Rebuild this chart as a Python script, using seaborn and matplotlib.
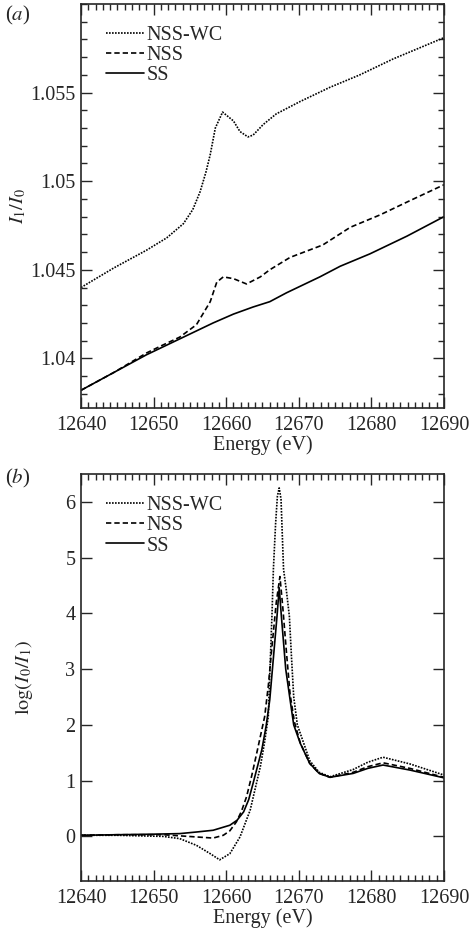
import numpy as np
import pandas as pd
import matplotlib
matplotlib.use('Agg')
import matplotlib.pyplot as plt
import seaborn as sns
from matplotlib.ticker import MultipleLocator, FixedLocator, FixedFormatter

# ---- panel (a): I1/I0 ----
a_ss_e = [12640, 12644.5, 12649, 12653.6, 12658.2, 12661, 12663.7, 12666, 12668.3,
          12672.9, 12675.7, 12679.8, 12684.9, 12690]
a_ss_v = [1.0382, 1.0392, 1.0402, 1.0411, 1.0420, 1.0425, 1.0429, 1.0432, 1.0437,
          1.0446, 1.0452, 1.0459, 1.0469, 1.0480]

a_nss_e = [12640, 12644.5, 12649, 12651, 12653.6, 12655.9, 12657.8, 12658.7, 12659.6,
           12661, 12662.8, 12664.7, 12666, 12668.8, 12673.3, 12677.1, 12681.2, 12685.3, 12690]
a_nss_v = [1.0382, 1.0392, 1.0403, 1.0407, 1.0412, 1.0419, 1.0432, 1.0443, 1.0446,
           1.0445, 1.0442, 1.0446, 1.0450, 1.0457, 1.0464, 1.0474, 1.0481, 1.0489, 1.0498]

a_wc_e = [12640, 12644.5, 12649, 12651.8, 12654.1, 12655.4, 12656.4, 12657.2, 12657.8,
          12658.5, 12659.5, 12661, 12661.9, 12663, 12663.7, 12665.1, 12666.9, 12670.2,
          12674.3, 12678.4, 12683, 12690]
a_wc_v = [1.0440, 1.0451, 1.0461, 1.0468, 1.0476, 1.0484, 1.0494, 1.0505, 1.0515,
          1.0530, 1.0539, 1.0534, 1.0528, 1.0525, 1.0526, 1.0532, 1.0538, 1.0545,
          1.0553, 1.0560, 1.0569, 1.0581]

# ---- panel (b): log(I0/I1) ----
b_ss_e = [12640, 12645, 12650, 12653.6, 12656, 12658.2, 12660.5, 12661.5, 12662.4, 12663.1,
          12663.7, 12664.3, 12664.9, 12665.5, 12666, 12666.5, 12667, 12667.3, 12667.6,
          12668.2, 12668.8, 12669.3, 12670.2, 12671.5, 12672.8, 12674.3, 12677.5, 12679.5,
          12681.6, 12685.3, 12690]
b_ss_v = [0.02, 0.03, 0.04, 0.05, 0.08, 0.11, 0.20, 0.29, 0.44, 0.66,
          0.95, 1.25, 1.55, 1.98, 2.45, 3.2, 3.95, 4.46, 3.95,
          3.0, 2.45, 2.0, 1.67, 1.31, 1.13, 1.06, 1.13, 1.22,
          1.28, 1.19, 1.05]

b_nss_e = [12640, 12645, 12651.3, 12655.9, 12658.2, 12659.6, 12660.5, 12661.4, 12662.1,
           12662.8, 12663.5, 12664.2, 12664.8, 12665.3, 12665.8, 12666.3, 12666.9, 12667.4,
           12667.8, 12668.3, 12668.8, 12669.4, 12670.2, 12671.5, 12672.8, 12674.3, 12677.5,
           12679.5, 12681.6, 12685.3, 12690]
b_nss_v = [0.02, 0.03, 0.03, -0.01, -0.03, 0.02, 0.10, 0.26, 0.45,
           0.71, 1.08, 1.49, 1.85, 2.15, 2.7, 3.4, 4.2, 4.66,
           4.1, 3.3, 2.55, 2.05, 1.68, 1.31, 1.13, 1.06, 1.15,
           1.25, 1.32, 1.22, 1.06]

b_wc_e = [12640, 12645, 12651.3, 12653.6, 12655.9, 12657.8, 12659.1, 12660.5, 12661.9,
          12663.3, 12664.7, 12665.3, 12665.8, 12666.0, 12666.3, 12666.5, 12666.8, 12667.05,
          12667.3, 12667.55, 12667.9, 12668.3, 12668.7, 12669.0, 12669.3, 12669.8, 12670.6,
          12671.5, 12672.8, 12674.3, 12677.5, 12679.5, 12681.6, 12685.3, 12690]
b_wc_v = [0.02, 0.02, 0.0, -0.04, -0.16, -0.31, -0.42, -0.31, -0.01,
          0.47, 1.25, 1.7, 2.15, 2.9, 3.95, 4.79, 5.6, 6.1,
          6.25, 6.05, 4.79, 4.4, 3.95, 3.2, 2.5, 2.0, 1.70,
          1.36, 1.15, 1.07, 1.2, 1.33, 1.42, 1.30, 1.10]

labels = ['NSS-WC', 'NSS', 'SS']
styles = {'NSS-WC': (0, (1, 0.8)), 'NSS': (0, (3.2, 1.8)), 'SS': '-'}

sns.set_style('ticks')
plt.rcParams['font.family'] = ['Liberation Serif', 'DejaVu Serif']
plt.rcParams['mathtext.fontset'] = 'stix'
plt.rcParams['font.size'] = 14.5

fs = 14.5
fig = plt.figure(figsize=(4.72, 9.31), dpi=100)
ax1 = fig.add_axes([81 / 472, 1 - 408 / 931, 363 / 472, 404 / 931])
ax2 = fig.add_axes([81 / 472, 1 - 881 / 931, 363 / 472, 407 / 931])

top_sets = [(a_wc_e, a_wc_v), (a_nss_e, a_nss_v), (a_ss_e, a_ss_v)]
bot_sets = [(b_wc_e, b_wc_v), (b_nss_e, b_nss_v), (b_ss_e, b_ss_v)]

for ax, sets in [(ax1, top_sets), (ax2, bot_sets)]:
    for lab, (e, v) in zip(labels, sets):
        sns.lineplot(x=e, y=v, ax=ax, color='black', linewidth=1.2,
                     linestyle=styles[lab], label=lab)
    ax.legend(loc='upper left', frameon=False, fontsize=fs, handlelength=1.9,
              handletextpad=0.1, labelspacing=0.05, borderaxespad=0.3,
              bbox_to_anchor=(0.03, 0.98))
    ax.set_xlim(12640, 12690)
    ax.xaxis.set_major_locator(MultipleLocator(10))
    ax.xaxis.set_minor_locator(MultipleLocator(1))
    ax.tick_params(which='both', direction='in', top=True, right=True,
                   labelsize=fs, width=1.0)
    ax.tick_params(axis='x', which='both', pad=6)
    ax.tick_params(axis='y', which='both', pad=4)
    ax.tick_params(which='major', length=8)
    ax.tick_params(which='minor', length=4.3)
    for s in ax.spines.values():
        s.set_linewidth(1.2)
    ax.set_xlabel('Energy (eV)', fontsize=fs, labelpad=0)

ax1.set_ylim(1.0372, 1.060)
ax1.yaxis.set_major_locator(FixedLocator([1.04, 1.045, 1.05, 1.055]))
ax1.yaxis.set_major_formatter(FixedFormatter(['1.04', '1.045', '1.05', '1.055']))
ax1.yaxis.set_minor_locator(MultipleLocator(0.001))
ax1.set_ylabel(r'$I_1/I_0$', fontsize=fs)
ax1.yaxis.set_label_coords(-0.146, 0.5)

ax2.set_ylim(-0.8, 6.5)
ax2.yaxis.set_major_locator(MultipleLocator(1))
ax2.yaxis.set_minor_locator(FixedLocator([]))
ax2.set_ylabel(r'$\mathrm{log}(I_0/I_1)$', fontsize=fs)
ax2.yaxis.set_label_coords(-0.128, 0.5)

fig.text(5 / 472, 1 - 15 / 931, r'($a$)', fontsize=15, va='center', ha='left')
fig.text(5 / 472, 1 - 478 / 931, r'($b$)', fontsize=15, va='center', ha='left')

fig.savefig('out.png', dpi=100)
plt.close(fig)
